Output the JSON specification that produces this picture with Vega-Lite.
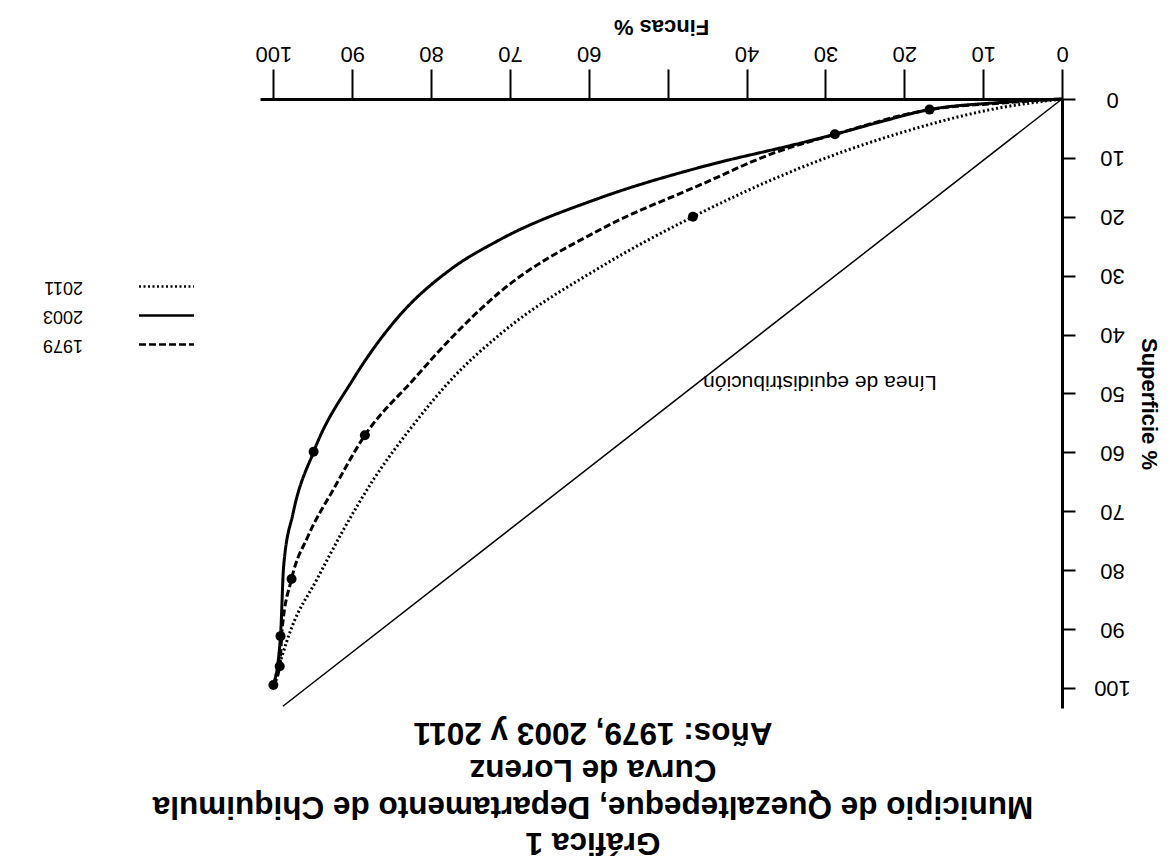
{
  "$schema": "https://vega.github.io/schema/vega-lite/v6.json",
  "width": 802,
  "height": 609,
  "autosize": {"type": "none"},
  "padding": {"left": 260, "top": 99, "right": 114, "bottom": 159},
  "background": "white",
  "config": {"view": {"stroke": null}, "font": "Liberation Sans"},
  "title": {
    "text": ["Gráfica 1", "Municipio de Quezaltepeque, Departamento de Chiquimula", "Curva de Lorenz", "Años: 1979, 2003 y 2011"],
    "orient": "bottom",
    "angle": 180,
    "baseline": "bottom",
    "anchor": "middle",
    "fontSize": 31.5,
    "fontWeight": "bold",
    "lineHeight": 36.7,
    "offset": 117,
    "dx": 68,
    "color": "black",
    "font": "Liberation Sans"
  },
  "datasets": {
    "diagonal": [
      {"Fincas": 0, "Superficie": 0},
      {"Fincas": 98.8, "Superficie": 103.1}
    ],
    "curvas": [
      {"Año": "2003", "Fincas": 0, "Superficie": 0},
      {"Año": "2003", "Fincas": 7.9, "Superficie": 0.6},
      {"Año": "2003", "Fincas": 16.8, "Superficie": 1.8},
      {"Año": "2003", "Fincas": 23.1, "Superficie": 3.9},
      {"Año": "2003", "Fincas": 28.8, "Superficie": 6.0},
      {"Año": "2003", "Fincas": 33.2, "Superficie": 7.5},
      {"Año": "2003", "Fincas": 45.9, "Superficie": 11.6},
      {"Año": "2003", "Fincas": 58.6, "Superficie": 16.8},
      {"Año": "2003", "Fincas": 71.3, "Superficie": 23.9},
      {"Año": "2003", "Fincas": 77.6, "Superficie": 29.0},
      {"Año": "2003", "Fincas": 83.9, "Superficie": 36.6},
      {"Año": "2003", "Fincas": 89.9, "Superficie": 47.6},
      {"Año": "2003", "Fincas": 94.9, "Superficie": 59.9},
      {"Año": "2003", "Fincas": 97.5, "Superficie": 70.3},
      {"Año": "2003", "Fincas": 98.7, "Superficie": 79.3},
      {"Año": "2003", "Fincas": 99.1, "Superficie": 91.2},
      {"Año": "2003", "Fincas": 100, "Superficie": 99.5},
      {"Año": "1979", "Fincas": 0, "Superficie": 0},
      {"Año": "1979", "Fincas": 7.9, "Superficie": 0.7},
      {"Año": "1979", "Fincas": 16.8, "Superficie": 1.8},
      {"Año": "1979", "Fincas": 28.8, "Superficie": 6.0},
      {"Año": "1979", "Fincas": 36.6, "Superficie": 9.2},
      {"Año": "1979", "Fincas": 45.9, "Superficie": 14.6},
      {"Año": "1979", "Fincas": 58.6, "Superficie": 22.2},
      {"Año": "1979", "Fincas": 71.3, "Superficie": 32.8},
      {"Año": "1979", "Fincas": 77.6, "Superficie": 40.8},
      {"Año": "1979", "Fincas": 82.2, "Superficie": 47.6},
      {"Año": "1979", "Fincas": 88.4, "Superficie": 57.1},
      {"Año": "1979", "Fincas": 92.4, "Superficie": 66.3},
      {"Año": "1979", "Fincas": 95.6, "Superficie": 74.2},
      {"Año": "1979", "Fincas": 97.7, "Superficie": 81.5},
      {"Año": "1979", "Fincas": 98.9, "Superficie": 90.1},
      {"Año": "1979", "Fincas": 99.2, "Superficie": 96.3},
      {"Año": "1979", "Fincas": 100, "Superficie": 99.5},
      {"Año": "2011", "Fincas": 0, "Superficie": 0},
      {"Año": "2011", "Fincas": 7.9, "Superficie": 1.5},
      {"Año": "2011", "Fincas": 20.6, "Superficie": 5.8},
      {"Año": "2011", "Fincas": 33.2, "Superficie": 11.7},
      {"Año": "2011", "Fincas": 46.8, "Superficie": 20.0},
      {"Año": "2011", "Fincas": 58.6, "Superficie": 28.6},
      {"Año": "2011", "Fincas": 71.3, "Superficie": 40.0},
      {"Año": "2011", "Fincas": 77.0, "Superficie": 47.0},
      {"Año": "2011", "Fincas": 82.7, "Superficie": 56.1},
      {"Año": "2011", "Fincas": 87.3, "Superficie": 64.6},
      {"Año": "2011", "Fincas": 91.1, "Superficie": 73.1},
      {"Año": "2011", "Fincas": 94.5, "Superficie": 81.6},
      {"Año": "2011", "Fincas": 97.7, "Superficie": 89.8},
      {"Año": "2011", "Fincas": 100, "Superficie": 99.5}
    ],
    "puntos": [
      {"Año": "1979", "Fincas": 16.8, "Superficie": 1.8},
      {"Año": "1979", "Fincas": 28.8, "Superficie": 6.0},
      {"Año": "1979", "Fincas": 88.4, "Superficie": 57.1},
      {"Año": "1979", "Fincas": 97.7, "Superficie": 81.5},
      {"Año": "1979", "Fincas": 99.2, "Superficie": 96.3},
      {"Año": "2003", "Fincas": 94.9, "Superficie": 59.9},
      {"Año": "2003", "Fincas": 99.1, "Superficie": 91.2},
      {"Año": "2003", "Fincas": 100, "Superficie": 99.5},
      {"Año": "2011", "Fincas": 46.8, "Superficie": 20.0}
    ],
    "etiqueta": [
      {"Fincas": 30.7, "Superficie": 48, "texto": "Línea de equidistribución"}
    ]
  },
  "encoding": {
    "x": {
      "field": "Fincas",
      "type": "quantitative",
      "scale": {"domain": [0, 101.7], "reverse": true, "nice": false, "zero": false},
      "axis": {
        "orient": "top",
        "title": "Fincas %",
        "titleFontSize": 22,
        "titleFontWeight": "bold",
        "titleColor": "black",
        "titleAngle": 180,
        "titlePadding": 28,
        "values": [0, 10, 20, 30, 40, 50, 60, 70, 80, 90, 100],
        "labelExpr": "datum.value == 50 ? '' : datum.label",
        "labelAngle": 180,
        "labelFontSize": 22,
        "labelColor": "black",
        "labelPadding": 6,
        "labelFlush": false,
        "labelOverlap": false,
        "tickSize": 30,
        "tickWidth": 2,
        "tickColor": "black",
        "domainColor": "black",
        "domainWidth": 3,
        "grid": false
      }
    },
    "y": {
      "field": "Superficie",
      "type": "quantitative",
      "scale": {"domain": [0, 103.4], "reverse": true, "nice": false, "zero": false},
      "axis": {
        "orient": "right",
        "title": "Superficie %",
        "titleFontSize": 22,
        "titleFontWeight": "bold",
        "titleColor": "black",
        "titlePadding": 6,
        "values": [0, 10, 20, 30, 40, 50, 60, 70, 80, 90, 100],
        "labelAngle": 180,
        "labelAlign": "center",
        "labelFontSize": 22,
        "labelColor": "black",
        "labelPadding": 37,
        "labelFlush": false,
        "labelOverlap": false,
        "tickSize": 13,
        "tickWidth": 2,
        "tickColor": "black",
        "domainColor": "black",
        "domainWidth": 3,
        "grid": false
      }
    }
  },
  "layer": [
    {
      "data": {"name": "diagonal"},
      "mark": {"type": "line", "color": "black", "strokeWidth": 1.5},
      "encoding": {}
    },
    {
      "data": {"name": "curvas"},
      "mark": {"type": "line", "color": "black", "strokeWidth": 3, "interpolate": "monotone", "strokeCap": "butt"},
      "encoding": {
        "strokeDash": {
          "field": "Año",
          "type": "nominal",
          "scale": {"domain": ["2011", "2003", "1979"], "range": [[2, 2.5], [1, 0], [7, 3]]},
          "legend": {
            "orient": "none",
            "legendX": -106,
            "legendY": 175,
            "title": null,
            "symbolType": "M-2.5,0H2.5",
            "symbolSize": 484,
            "symbolStrokeWidth": 2.5,
            "symbolStrokeColor": "black",
            "labelFontSize": 18,
            "labelColor": "black",
            "labelAlign": "left",
            "labelOffset": -96,
            "rowPadding": 7,
            "encoding": {"labels": {"angle": {"value": 180}}}
          }
        }
      }
    },
    {
      "data": {"name": "puntos"},
      "mark": {"type": "point", "filled": true, "color": "black", "size": 100, "opacity": 1, "shape": "circle"},
      "encoding": {}
    },
    {
      "data": {"name": "etiqueta"},
      "mark": {"type": "text", "angle": 180, "fontSize": 21, "color": "black", "align": "center", "baseline": "middle"},
      "encoding": {"text": {"field": "texto"}}
    }
  ]
}
